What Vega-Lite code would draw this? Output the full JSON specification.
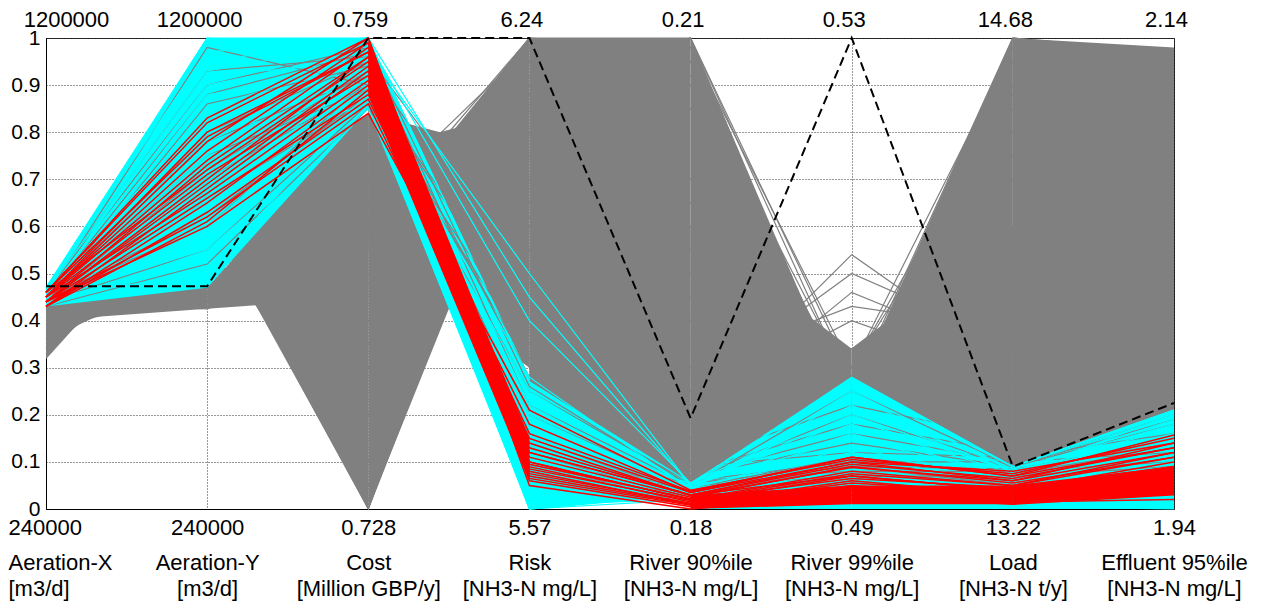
{
  "$schema": "https://vega.github.io/schema/vega-lite/v6.json",
  "width": 1128,
  "height": 471,
  "autosize": {"type": "none"},
  "padding": {"left": 46, "top": 38, "right": 90, "bottom": 106},
  "background": "white",
  "config": {
    "view": {"stroke": "#333", "strokeWidth": 1},
    "font": "Liberation Sans",
    "axis": {"labelFont": "Liberation Sans", "labelColor": "#000"}
  },
  "datasets": {
    "fills": [
      {"p": "g1", "k": "gray", "ax": "a", "lo": 0.32, "hi": 0.46}, {"p": "g1", "k": "gray", "ax": "b", "lo": 0.70, "hi": 0.70},
      {"p": "g2", "k": "gray", "ax": "a", "lo": 0.36, "hi": 0.46}, {"p": "g2", "k": "gray", "ax": "b", "lo": 0.52, "hi": 0.52},
      {"p": "g3", "k": "gray", "ax": "a", "lo": 0.40, "hi": 0.46}, {"p": "g3", "k": "gray", "ax": "b", "lo": 0.425, "hi": 0.47},
      {"p": "g4", "k": "gray", "ax": "b", "lo": 0.425, "hi": 0.47}, {"p": "g4", "k": "gray", "ax": "c", "lo": 0.45, "hi": 0.84},
      {"p": "g5", "k": "gray", "ax": "b", "lo": 0.62, "hi": 0.62}, {"p": "g5", "k": "gray", "ax": "c", "lo": 0.0, "hi": 0.84},
      {"p": "g6", "k": "gray", "ax": "c", "lo": 0.0, "hi": 0.76}, {"p": "g6", "k": "gray", "ax": "d", "lo": 0.85, "hi": 0.85},
      {"p": "g7", "k": "gray", "ax": "c", "lo": 0.55, "hi": 0.84}, {"p": "g7", "k": "gray", "ax": "d", "lo": 0.30, "hi": 0.75},
      {"p": "g8", "k": "gray", "ax": "c", "lo": 0.58, "hi": 0.58}, {"p": "g8", "k": "gray", "ax": "d", "lo": 0.75, "hi": 1.0},
      {"p": "g9", "k": "gray", "ax": "d", "lo": 0.25, "hi": 1.0}, {"p": "g9", "k": "gray", "ax": "e", "lo": 0.05, "hi": 1.0},
      {"p": "g10", "k": "gray", "ax": "e", "lo": 0.05, "hi": 1.0}, {"p": "g10", "k": "gray", "ax": "f", "lo": 0.06, "hi": 0.20},
      {"p": "g11", "k": "gray", "ax": "e", "lo": 0.05, "hi": 0.60}, {"p": "g11", "k": "gray", "ax": "f", "lo": 0.06, "hi": 0.34},
      {"p": "g12", "k": "gray", "ax": "f", "lo": 0.06, "hi": 0.24}, {"p": "g12", "k": "gray", "ax": "g", "lo": 0.09, "hi": 1.0},
      {"p": "g13", "k": "gray", "ax": "f", "lo": 0.06, "hi": 0.34}, {"p": "g13", "k": "gray", "ax": "g", "lo": 0.09, "hi": 0.60},
      {"p": "g14", "k": "gray", "ax": "g", "lo": 0.09, "hi": 1.0}, {"p": "g14", "k": "gray", "ax": "h", "lo": 0.03, "hi": 0.98},
      {"p": "c1", "k": "cyan", "ax": "a", "lo": 0.43, "hi": 0.47}, {"p": "c1", "k": "cyan", "ax": "b", "lo": 0.47, "hi": 1.0},
      {"p": "c2", "k": "cyan", "ax": "b", "lo": 0.47, "hi": 1.0}, {"p": "c2", "k": "cyan", "ax": "c", "lo": 0.85, "hi": 1.0},
      {"p": "c3", "k": "cyan", "ax": "c", "lo": 0.85, "hi": 1.0}, {"p": "c3", "k": "cyan", "ax": "d", "lo": 0.0, "hi": 0.28},
      {"p": "c4", "k": "cyan", "ax": "d", "lo": 0.0, "hi": 0.27}, {"p": "c4", "k": "cyan", "ax": "e", "lo": 0.03, "hi": 0.055},
      {"p": "c5", "k": "cyan", "ax": "e", "lo": 0.0, "hi": 0.055}, {"p": "c5", "k": "cyan", "ax": "f", "lo": 0.0, "hi": 0.28},
      {"p": "c6", "k": "cyan", "ax": "f", "lo": 0.0, "hi": 0.28}, {"p": "c6", "k": "cyan", "ax": "g", "lo": 0.0, "hi": 0.09},
      {"p": "c7", "k": "cyan", "ax": "g", "lo": 0.0, "hi": 0.09}, {"p": "c7", "k": "cyan", "ax": "h", "lo": 0.0, "hi": 0.21},
      {"p": "r3", "k": "red", "ax": "c", "lo": 0.88, "hi": 0.99}, {"p": "r3", "k": "red", "ax": "d", "lo": 0.06, "hi": 0.15},
      {"p": "r5", "k": "red", "ax": "e", "lo": 0.0, "hi": 0.03}, {"p": "r5", "k": "red", "ax": "f", "lo": 0.01, "hi": 0.05},
      {"p": "r6", "k": "red", "ax": "f", "lo": 0.01, "hi": 0.05}, {"p": "r6", "k": "red", "ax": "g", "lo": 0.01, "hi": 0.05},
      {"p": "r7", "k": "red", "ax": "g", "lo": 0.01, "hi": 0.05}, {"p": "r7", "k": "red", "ax": "h", "lo": 0.03, "hi": 0.09}
    ],
    "lines": [
      {"id": "G1", "k": "gray", "a": 0.32, "b": 0.70, "c": 0.00, "d": 0.95, "e": 0.60, "f": 0.20, "g": 0.55, "h": 0.50},
      {"id": "G2", "k": "gray", "a": 0.34, "b": 0.60, "c": 0.05, "d": 0.90, "e": 0.85, "f": 0.25, "g": 0.80, "h": 0.78},
      {"id": "G3", "k": "gray", "a": 0.36, "b": 0.52, "c": 0.40, "d": 0.70, "e": 0.30, "f": 0.12, "g": 0.30, "h": 0.28},
      {"id": "G4", "k": "gray", "a": 0.38, "b": 0.47, "c": 0.56, "d": 0.55, "e": 0.50, "f": 0.18, "g": 0.45, "h": 0.42},
      {"id": "G5", "k": "gray", "a": 0.40, "b": 0.44, "c": 0.60, "d": 0.45, "e": 0.20, "f": 0.10, "g": 0.20, "h": 0.18},
      {"id": "G6", "k": "gray", "a": 0.42, "b": 0.43, "c": 0.70, "d": 0.40, "e": 0.95, "f": 0.22, "g": 0.95, "h": 0.92},
      {"id": "G7", "k": "gray", "a": 0.44, "b": 0.425, "c": 0.56, "d": 1.00, "e": 1.00, "f": 0.25, "g": 1.00, "h": 0.97},
      {"id": "G8", "k": "gray", "a": 0.35, "b": 0.63, "c": 0.00, "d": 0.88, "e": 0.40, "f": 0.15, "g": 0.35, "h": 0.33},
      {"id": "G9", "k": "gray", "a": 0.33, "b": 0.66, "c": 0.10, "d": 0.98, "e": 0.70, "f": 0.28, "g": 0.70, "h": 0.66},
      {"id": "G10", "k": "gray", "a": 0.37, "b": 0.55, "c": 0.30, "d": 0.80, "e": 0.15, "f": 0.08, "g": 0.15, "h": 0.12},
      {"id": "G11", "k": "gray", "a": 0.39, "b": 0.50, "c": 0.45, "d": 0.65, "e": 0.25, "f": 0.30, "g": 0.90, "h": 0.85},
      {"id": "G12", "k": "gray", "a": 0.41, "b": 0.46, "c": 0.65, "d": 0.50, "e": 0.35, "f": 0.34, "g": 0.60, "h": 0.58},
      {"id": "G13", "k": "gray", "a": 0.43, "b": 0.48, "c": 0.75, "d": 0.35, "e": 0.10, "f": 0.06, "g": 0.12, "h": 0.08},
      {"id": "G14", "k": "gray", "a": 0.44, "b": 0.45, "c": 0.84, "d": 0.32, "e": 0.08, "f": 0.07, "g": 0.10, "h": 0.05},
      {"id": "G15", "k": "gray", "a": 0.45, "b": 0.47, "c": 0.80, "d": 0.40, "e": 0.45, "f": 0.20, "g": 0.40, "h": 0.36},
      {"id": "G16", "k": "gray", "a": 0.42, "b": 0.44, "c": 0.58, "d": 1.00, "e": 0.90, "f": 0.24, "g": 1.00, "h": 0.96},
      {"id": "G17", "k": "gray", "a": 0.36, "b": 0.58, "c": 0.20, "d": 0.92, "e": 1.00, "f": 0.18, "g": 0.50, "h": 0.47},
      {"id": "G18", "k": "gray", "a": 0.38, "b": 0.53, "c": 0.35, "d": 0.75, "e": 1.00, "f": 0.28, "g": 0.75, "h": 0.72},
      {"id": "G19", "k": "gray", "a": 0.40, "b": 0.49, "c": 0.50, "d": 0.60, "e": 0.65, "f": 0.30, "g": 0.85, "h": 0.82},
      {"id": "G20", "k": "gray", "a": 0.34, "b": 0.64, "c": 0.02, "d": 0.86, "e": 0.55, "f": 0.14, "g": 0.25, "h": 0.22},
      {"id": "G21", "k": "gray", "a": 0.41, "b": 0.47, "c": 0.62, "d": 0.55, "e": 0.20, "f": 0.54, "g": 0.30, "h": 0.28},
      {"id": "G22", "k": "gray", "a": 0.40, "b": 0.48, "c": 0.55, "d": 0.62, "e": 0.25, "f": 0.50, "g": 0.35, "h": 0.33},
      {"id": "G23", "k": "gray", "a": 0.42, "b": 0.46, "c": 0.66, "d": 0.52, "e": 0.18, "f": 0.46, "g": 0.32, "h": 0.30},
      {"id": "G24", "k": "gray", "a": 0.39, "b": 0.50, "c": 0.48, "d": 0.68, "e": 0.30, "f": 0.43, "g": 0.38, "h": 0.36},
      {"id": "G25", "k": "gray", "a": 0.43, "b": 0.45, "c": 0.70, "d": 0.48, "e": 0.22, "f": 0.40, "g": 0.28, "h": 0.26},
      {"id": "G26", "k": "gray", "a": 0.43, "b": 0.45, "c": 0.60, "d": 1.00, "e": 0.98, "f": 0.30, "g": 0.98, "h": 0.95},
      {"id": "G27", "k": "gray", "a": 0.41, "b": 0.47, "c": 0.65, "d": 0.98, "e": 0.92, "f": 0.26, "g": 0.88, "h": 0.86},
      {"id": "N1", "k": "near", "a": 0.44, "b": 0.55, "c": 0.86, "d": 0.35, "e": 0.06, "f": 0.10, "g": 0.10, "h": 0.12},
      {"id": "N2", "k": "near", "a": 0.45, "b": 0.62, "c": 0.88, "d": 0.30, "e": 0.07, "f": 0.14, "g": 0.09, "h": 0.20},
      {"id": "N3", "k": "near", "a": 0.44, "b": 0.70, "c": 0.90, "d": 0.40, "e": 0.08, "f": 0.18, "g": 0.12, "h": 0.25},
      {"id": "N4", "k": "near", "a": 0.45, "b": 0.78, "c": 0.92, "d": 0.28, "e": 0.06, "f": 0.08, "g": 0.08, "h": 0.10},
      {"id": "N5", "k": "near", "a": 0.44, "b": 0.86, "c": 0.94, "d": 0.45, "e": 0.10, "f": 0.22, "g": 0.15, "h": 0.30},
      {"id": "N6", "k": "near", "a": 0.46, "b": 0.93, "c": 0.96, "d": 0.50, "e": 0.09, "f": 0.12, "g": 0.11, "h": 0.16},
      {"id": "N7", "k": "near", "a": 0.45, "b": 0.98, "c": 0.90, "d": 0.38, "e": 0.07, "f": 0.16, "g": 0.10, "h": 0.22},
      {"id": "N8", "k": "near", "a": 0.44, "b": 0.66, "c": 0.87, "d": 0.25, "e": 0.055, "f": 0.09, "g": 0.085, "h": 0.14},
      {"id": "N9", "k": "near", "a": 0.43, "b": 0.52, "c": 0.85, "d": 0.33, "e": 0.065, "f": 0.20, "g": 0.09, "h": 0.18},
      {"id": "N10", "k": "near", "a": 0.45, "b": 0.88, "c": 0.97, "d": 0.22, "e": 0.05, "f": 0.07, "g": 0.07, "h": 0.09},
      {"id": "N11", "k": "near", "a": 0.44, "b": 0.72, "c": 0.93, "d": 0.12, "e": 0.02, "f": 0.07, "g": 0.04, "h": 0.06},
      {"id": "N12", "k": "near", "a": 0.45, "b": 0.60, "c": 0.91, "d": 0.15, "e": 0.03, "f": 0.09, "g": 0.05, "h": 0.08},
      {"id": "N13", "k": "near", "a": 0.44, "b": 0.80, "c": 0.95, "d": 0.10, "e": 0.01, "f": 0.06, "g": 0.03, "h": 0.05},
      {"id": "N14", "k": "near", "a": 0.46, "b": 0.90, "c": 0.98, "d": 0.26, "e": 0.05, "f": 0.25, "g": 0.09, "h": 0.19},
      {"id": "N15", "k": "near", "a": 0.45, "b": 0.75, "c": 0.89, "d": 0.20, "e": 0.045, "f": 0.11, "g": 0.075, "h": 0.13},
      {"id": "C1", "k": "cyan", "a": 0.46, "b": 1.00, "c": 0.98, "d": 0.02, "e": 0.05, "f": 0.28, "g": 0.09, "h": 0.21},
      {"id": "C2", "k": "cyan", "a": 0.47, "b": 0.97, "c": 1.00, "d": 0.00, "e": 0.04, "f": 0.25, "g": 0.08, "h": 0.19},
      {"id": "C3", "k": "cyan", "a": 0.45, "b": 0.92, "c": 0.95, "d": 0.05, "e": 0.045, "f": 0.22, "g": 0.085, "h": 0.17},
      {"id": "C4", "k": "cyan", "a": 0.44, "b": 0.88, "c": 0.93, "d": 0.10, "e": 0.05, "f": 0.20, "g": 0.08, "h": 0.15},
      {"id": "C5", "k": "cyan", "a": 0.46, "b": 0.84, "c": 0.90, "d": 0.15, "e": 0.055, "f": 0.18, "g": 0.075, "h": 0.20},
      {"id": "C6", "k": "cyan", "a": 0.43, "b": 0.80, "c": 0.87, "d": 0.20, "e": 0.05, "f": 0.15, "g": 0.07, "h": 0.12},
      {"id": "C7", "k": "cyan", "a": 0.45, "b": 0.75, "c": 0.86, "d": 0.25, "e": 0.045, "f": 0.12, "g": 0.065, "h": 0.10},
      {"id": "C8", "k": "cyan", "a": 0.47, "b": 0.70, "c": 0.89, "d": 0.28, "e": 0.04, "f": 0.10, "g": 0.06, "h": 0.08},
      {"id": "C9", "k": "cyan", "a": 0.44, "b": 0.65, "c": 0.91, "d": 0.12, "e": 0.035, "f": 0.08, "g": 0.05, "h": 0.06},
      {"id": "C10", "k": "cyan", "a": 0.46, "b": 0.60, "c": 0.92, "d": 0.03, "e": 0.03, "f": 0.06, "g": 0.04, "h": 0.05},
      {"id": "C11", "k": "cyan", "a": 0.43, "b": 0.55, "c": 0.85, "d": 0.01, "e": 0.02, "f": 0.04, "g": 0.02, "h": 0.03},
      {"id": "C12", "k": "cyan", "a": 0.45, "b": 0.50, "c": 0.88, "d": 0.00, "e": 0.03, "f": 0.02, "g": 0.01, "h": 0.01},
      {"id": "C13", "k": "cyan", "a": 0.47, "b": 0.48, "c": 0.86, "d": 0.07, "e": 0.04, "f": 0.24, "g": 0.085, "h": 0.18},
      {"id": "C14", "k": "cyan", "a": 0.44, "b": 0.95, "c": 1.00, "d": 0.45, "e": 0.05, "f": 0.26, "g": 0.09, "h": 0.21},
      {"id": "C15", "k": "cyan", "a": 0.46, "b": 0.99, "c": 0.99, "d": 0.40, "e": 0.055, "f": 0.21, "g": 0.08, "h": 0.14},
      {"id": "C16", "k": "cyan", "a": 0.45, "b": 0.90, "c": 0.97, "d": 0.50, "e": 0.05, "f": 0.16, "g": 0.07, "h": 0.11},
      {"id": "C17", "k": "cyan", "a": 0.43, "b": 0.85, "c": 0.96, "d": 0.18, "e": 0.045, "f": 0.13, "g": 0.06, "h": 0.09},
      {"id": "C18", "k": "cyan", "a": 0.46, "b": 0.78, "c": 0.94, "d": 0.22, "e": 0.04, "f": 0.11, "g": 0.055, "h": 0.07},
      {"id": "C19", "k": "cyan", "a": 0.44, "b": 0.58, "c": 0.88, "d": 0.00, "e": 0.02, "f": 0.03, "g": 0.005, "h": 0.00},
      {"id": "C20", "k": "cyan", "a": 0.47, "b": 1.00, "c": 1.00, "d": 0.27, "e": 0.055, "f": 0.27, "g": 0.09, "h": 0.20},
      {"id": "C21", "k": "cyan", "a": 0.45, "b": 0.68, "c": 0.90, "d": 0.04, "e": 0.035, "f": 0.05, "g": 0.03, "h": 0.04},
      {"id": "C22", "k": "cyan", "a": 0.46, "b": 0.93, "c": 0.99, "d": 0.08, "e": 0.05, "f": 0.19, "g": 0.08, "h": 0.16},
      {"id": "R1", "k": "red", "a": 0.44, "b": 0.70, "c": 0.96, "d": 0.10, "e": 0.02, "f": 0.08, "g": 0.05, "h": 0.12},
      {"id": "R2", "k": "red", "a": 0.45, "b": 0.78, "c": 1.00, "d": 0.08, "e": 0.01, "f": 0.06, "g": 0.03, "h": 0.08},
      {"id": "R3", "k": "red", "a": 0.43, "b": 0.65, "c": 0.90, "d": 0.12, "e": 0.03, "f": 0.10, "g": 0.06, "h": 0.14},
      {"id": "R4", "k": "red", "a": 0.44, "b": 0.62, "c": 0.86, "d": 0.15, "e": 0.035, "f": 0.11, "g": 0.07, "h": 0.157},
      {"id": "R5", "k": "red", "a": 0.46, "b": 0.82, "c": 0.99, "d": 0.06, "e": 0.005, "f": 0.04, "g": 0.02, "h": 0.05},
      {"id": "R6", "k": "red", "a": 0.45, "b": 0.74, "c": 0.98, "d": 0.09, "e": 0.015, "f": 0.07, "g": 0.04, "h": 0.10},
      {"id": "R7", "k": "red", "a": 0.43, "b": 0.68, "c": 0.93, "d": 0.11, "e": 0.025, "f": 0.09, "g": 0.055, "h": 0.11},
      {"id": "R8", "k": "red", "a": 0.44, "b": 0.60, "c": 0.84, "d": 0.21, "e": 0.04, "f": 0.105, "g": 0.075, "h": 0.15},
      {"id": "R9", "k": "red", "a": 0.45, "b": 0.80, "c": 0.97, "d": 0.07, "e": 0.01, "f": 0.05, "g": 0.025, "h": 0.06},
      {"id": "R10", "k": "red", "a": 0.46, "b": 0.72, "c": 0.95, "d": 0.10, "e": 0.02, "f": 0.065, "g": 0.045, "h": 0.09},
      {"id": "R11", "k": "red", "a": 0.44, "b": 0.66, "c": 0.88, "d": 0.13, "e": 0.03, "f": 0.095, "g": 0.065, "h": 0.13},
      {"id": "R12", "k": "red", "a": 0.45, "b": 0.76, "c": 0.99, "d": 0.05, "e": 0.0, "f": 0.03, "g": 0.01, "h": 0.03},
      {"id": "R13", "k": "red", "a": 0.43, "b": 0.63, "c": 0.87, "d": 0.18, "e": 0.035, "f": 0.10, "g": 0.08, "h": 0.14},
      {"id": "R14", "k": "red", "a": 0.46, "b": 0.83, "c": 1.00, "d": 0.065, "e": 0.008, "f": 0.045, "g": 0.03, "h": 0.07},
      {"id": "R15", "k": "red", "a": 0.44, "b": 0.69, "c": 0.94, "d": 0.085, "e": 0.018, "f": 0.075, "g": 0.05, "h": 0.11},
      {"id": "R16", "k": "red", "a": 0.45, "b": 0.71, "c": 0.92, "d": 0.14, "e": 0.028, "f": 0.088, "g": 0.06, "h": 0.12},
      {"id": "R17", "k": "red", "a": 0.43, "b": 0.61, "c": 0.89, "d": 0.16, "e": 0.038, "f": 0.11, "g": 0.07, "h": 0.13},
      {"id": "R18", "k": "red", "a": 0.46, "b": 0.79, "c": 0.97, "d": 0.075, "e": 0.012, "f": 0.055, "g": 0.035, "h": 0.08},
      {"id": "R19", "k": "red", "a": 0.44, "b": 0.73, "c": 0.96, "d": 0.095, "e": 0.022, "f": 0.02, "g": 0.015, "h": 0.02},
      {"id": "R20", "k": "red", "a": 0.45, "b": 0.67, "c": 0.91, "d": 0.12, "e": 0.03, "f": 0.07, "g": 0.04, "h": 0.09},
      {"id": "B1", "k": "black", "a": 0.473, "b": 0.473, "c": 1.0, "d": 1.0, "e": 0.193, "f": 1.0, "g": 0.09, "h": 0.225}
    ]
  },
  "layer": [
    {
      "data": {"name": "fills"},
      "transform": [{"filter": "datum.k === 'gray'"}],
      "mark": {"type": "area", "color": "#808080", "opacity": 1},
      "encoding": {
        "x": {
          "field": "ax", "type": "ordinal",
          "scale": {"type": "point", "domain": ["a", "b", "c", "d", "e", "f", "g", "h"], "padding": 0},
          "axis": {
            "orient": "bottom", "title": null, "labelAngle": 0, "ticks": false,
            "grid": true, "gridDash": [1, 2], "gridColor": "#000", "gridOpacity": 0.8,
            "domainColor": "#000",
            "labelFontSize": 22, "labelBaseline": "alphabetic", "labelPadding": 25,
            "labelLineHeight": 8.75, "labelOverlap": false, "labelBound": false,
            "labelAlign": {"condition": {"test": "datum.value === 'a'", "value": "left"}, "value": "center"},
            "labelOffset": {"condition": {"test": "datum.value === 'a'", "value": -38}, "value": 0},
            "labelExpr": "{'a':['240000','\u200b','\u200b','\u200b','Aeration-X','\u200b','\u200b','[m3/d]'],'b':['240000','\u200b','\u200b','\u200b','Aeration-Y','\u200b','\u200b','[m3/d]'],'c':['0.728','\u200b','\u200b','\u200b','Cost','\u200b','\u200b','[Million GBP/y]'],'d':['5.57','\u200b','\u200b','\u200b','Risk','\u200b','\u200b','[NH3-N mg/L]'],'e':['0.18','\u200b','\u200b','\u200b','River 90%ile','\u200b','\u200b','[NH3-N mg/L]'],'f':['0.49','\u200b','\u200b','\u200b','River 99%ile','\u200b','\u200b','[NH3-N mg/L]'],'g':['13.22','\u200b','\u200b','\u200b','Load','\u200b','\u200b','[NH3-N t/y]'],'h':['1.94','\u200b','\u200b','\u200b','Effluent 95%ile','\u200b','\u200b','[NH3-N mg/L]']}[datum.value]"
          }
        },
        "y": {
          "field": "lo", "type": "quantitative",
          "scale": {"domain": [0, 1], "nice": false, "zero": false},
          "axis": {
            "orient": "left", "title": null, "values": [0, 0.1, 0.2, 0.3, 0.4, 0.5, 0.6, 0.7, 0.8, 0.9, 1],
            "labelExpr": "format(datum.value, '.1~f')", "ticks": false,
            "grid": true, "gridDash": [1, 2], "gridColor": "#000", "gridOpacity": 0.8,
            "domainColor": "#000", "labelFontSize": 21, "labelPadding": 6
          }
        },
        "y2": {"field": "hi"},
        "detail": {"field": "p"}
      }
    },
    {
      "data": {"name": "lines"},
      "transform": [{"filter": "datum.k === 'gray'"}, {"fold": ["a", "b", "c", "d", "e", "f", "g", "h"], "as": ["ax", "v"]}],
      "mark": {"type": "line", "color": "#808080", "strokeWidth": 1.2},
      "encoding": {
        "x": {
          "field": "ax", "type": "ordinal",
          "scale": {"type": "point", "domain": ["a", "b", "c", "d", "e", "f", "g", "h"], "padding": 0},
          "axis": {
            "orient": "top", "title": null, "labelAngle": 0, "ticks": false, "grid": false, "domain": false,
            "labelFontSize": 22, "labelBaseline": "alphabetic", "labelPadding": 12,
            "labelOverlap": false, "labelBound": false,
            "labelOffset": {"condition": {"test": "datum.value === 'a'", "value": 20}, "value": -8},
            "labelExpr": "{'a':'1200000','b':'1200000','c':'0.759','d':'6.24','e':'0.21','f':'0.53','g':'14.68','h':'2.14'}[datum.value]"
          }
        },
        "y": {"field": "v", "type": "quantitative", "scale": {"domain": [0, 1], "nice": false, "zero": false}, "axis": null},
        "detail": {"field": "id"}
      }
    },
    {
      "data": {"name": "fills"},
      "transform": [{"filter": "datum.k === 'cyan'"}],
      "mark": {"type": "area", "color": "#00ffff", "opacity": 1},
      "encoding": {
        "x": {"field": "ax", "type": "ordinal", "axis": null},
        "y": {"field": "lo", "type": "quantitative", "axis": null},
        "y2": {"field": "hi"},
        "detail": {"field": "p"}
      }
    },
    {
      "data": {"name": "lines"},
      "transform": [{"filter": "datum.k === 'near'"}, {"fold": ["a", "b", "c", "d", "e", "f", "g", "h"], "as": ["ax", "v"]}],
      "mark": {"type": "line", "color": "#808080", "strokeWidth": 1.2},
      "encoding": {
        "x": {"field": "ax", "type": "ordinal", "axis": null},
        "y": {"field": "v", "type": "quantitative", "axis": null},
        "detail": {"field": "id"}
      }
    },
    {
      "data": {"name": "lines"},
      "transform": [{"filter": "datum.k === 'cyan'"}, {"fold": ["a", "b", "c", "d", "e", "f", "g", "h"], "as": ["ax", "v"]}],
      "mark": {"type": "line", "color": "#00ffff", "strokeWidth": 1.2},
      "encoding": {
        "x": {"field": "ax", "type": "ordinal", "axis": null},
        "y": {"field": "v", "type": "quantitative", "axis": null},
        "detail": {"field": "id"}
      }
    },
    {
      "data": {"name": "fills"},
      "transform": [{"filter": "datum.k === 'red'"}],
      "mark": {"type": "area", "color": "#ff0000", "opacity": 1},
      "encoding": {
        "x": {"field": "ax", "type": "ordinal", "axis": null},
        "y": {"field": "lo", "type": "quantitative", "axis": null},
        "y2": {"field": "hi"},
        "detail": {"field": "p"}
      }
    },
    {
      "data": {"name": "lines"},
      "transform": [{"filter": "datum.k === 'red'"}, {"fold": ["a", "b", "c", "d", "e", "f", "g", "h"], "as": ["ax", "v"]}],
      "mark": {"type": "line", "color": "#ff0000", "strokeWidth": 1.5},
      "encoding": {
        "x": {"field": "ax", "type": "ordinal", "axis": null},
        "y": {"field": "v", "type": "quantitative", "axis": null},
        "detail": {"field": "id"}
      }
    },
    {
      "data": {"name": "lines"},
      "transform": [{"filter": "datum.k === 'black'"}, {"fold": ["a", "b", "c", "d", "e", "f", "g", "h"], "as": ["ax", "v"]}],
      "mark": {"type": "line", "color": "#000000", "strokeWidth": 2, "strokeDash": [9, 5]},
      "encoding": {
        "x": {"field": "ax", "type": "ordinal", "axis": null},
        "y": {"field": "v", "type": "quantitative", "axis": null},
        "detail": {"field": "id"}
      }
    }
  ],
  "resolve": {"axis": {"x": "independent", "y": "independent"}}
}
